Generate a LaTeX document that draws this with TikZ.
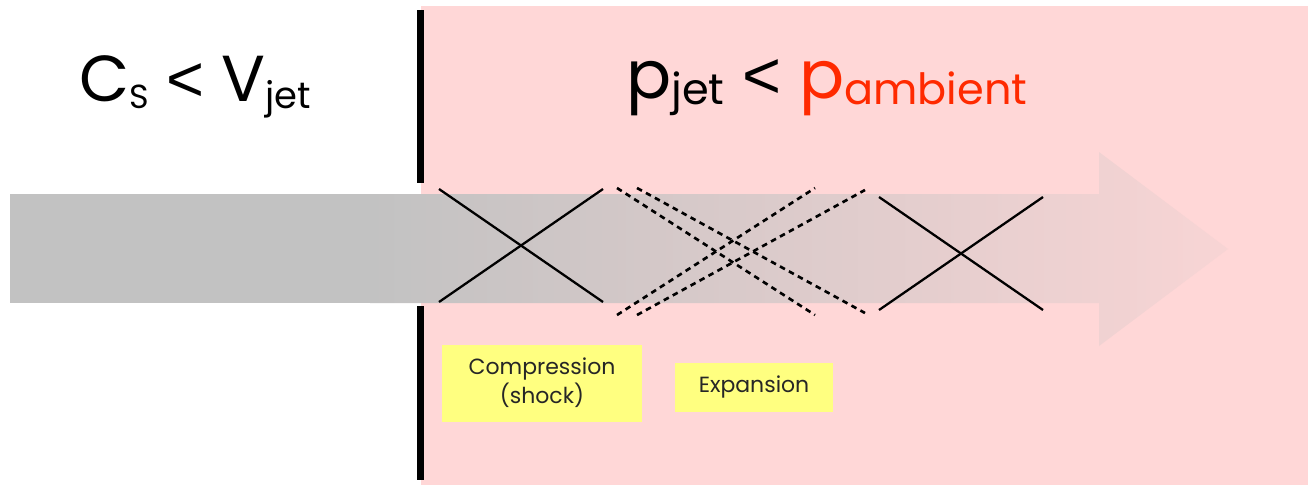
\documentclass[tikz,border=0pt]{standalone}
\usepackage{fontspec}
\setmainfont{Poppins}
\newfontfamily\symfont{Liberation Sans}

\definecolor{ambientpink}{HTML}{FFD7D7}
\definecolor{jetgray}{HTML}{C2C2C2}
\definecolor{notefill}{HTML}{FFFF80}
\definecolor{ambientred}{HTML}{FF2A00}

% lowered subscripts in two sizes, and a thin "less than"
\newcommand{\jetsub}[2][21]{\raisebox{-4pt}{\fontsize{#1}{#1}\selectfont #2}}
\newcommand{\ambsub}[1]{\raisebox{-3.5pt}{\fontsize{24.5}{24.5}\selectfont #1}}
\newcommand{\lessthan}{{\symfont <}}

\begin{document}
\begin{tikzpicture}[x=0.02cm,y=-0.02cm,
  shock/.style={line width=1.3pt},
  fan/.style={line width=1.5pt, dash pattern=on 3.2pt off 2.6pt},
  note/.style={fill=notefill, text=black!85, align=center, inner sep=0pt,
    font=\fontsize{12.5}{16.5}\selectfont}]
\useasboundingbox (0,0) rectangle (1308,485);

% Ambient medium
\fill[ambientpink] (421,6) rectangle (1308,485);

% Jet: steady part, then the fading arrow
\fill[jetgray] (10,194) rectangle (370,303);
\shade[left color=jetgray, right color=ambientpink!88!jetgray]
  (370,194) -- (1099,194) -- (1099,152) -- (1228,249)
  -- (1099,346) -- (1099,303) -- (370,303) -- cycle;

% Nozzle wall
\fill (417,10) rectangle (424,183);
\fill (417,306) rectangle (424,480);

% Compression
\draw[shock] (439,189) -- (603,302);
\draw[shock] (439,302) -- (603,189);

% Expansion
\draw[fan] (617,188) -- (815,315);
\draw[fan] (617,315) -- (815,188);
\draw[fan] (637,188) -- (865,313);
\draw[fan] (637,315) -- (865,190);

% Compression again
\draw[shock] (879,197) -- (1043,310);
\draw[shock] (879,310) -- (1043,197);

% Conditions
\node[anchor=base west, inner sep=0pt, font=\fontsize{37}{37}\selectfont]
  (speed) at (79,101) {C\jetsub[19]{S} \lessthan{} V\jetsub{jet}};
\node[anchor=base west, inner sep=0pt, font=\fontsize{38}{38}\selectfont]
  (press) at (626,98) {p\ambsub{jet} \lessthan{} \textcolor{ambientred}{p\ambsub{ambient}}};

% Labels
\node[note, minimum width=4cm, minimum height=1.54cm] (comp) at (542,383)
  {Compression\\(shock)};
\node[note, minimum width=3.16cm, minimum height=0.98cm] (expa) at (754,387)
  {Expansion};
\end{tikzpicture}
\end{document}
